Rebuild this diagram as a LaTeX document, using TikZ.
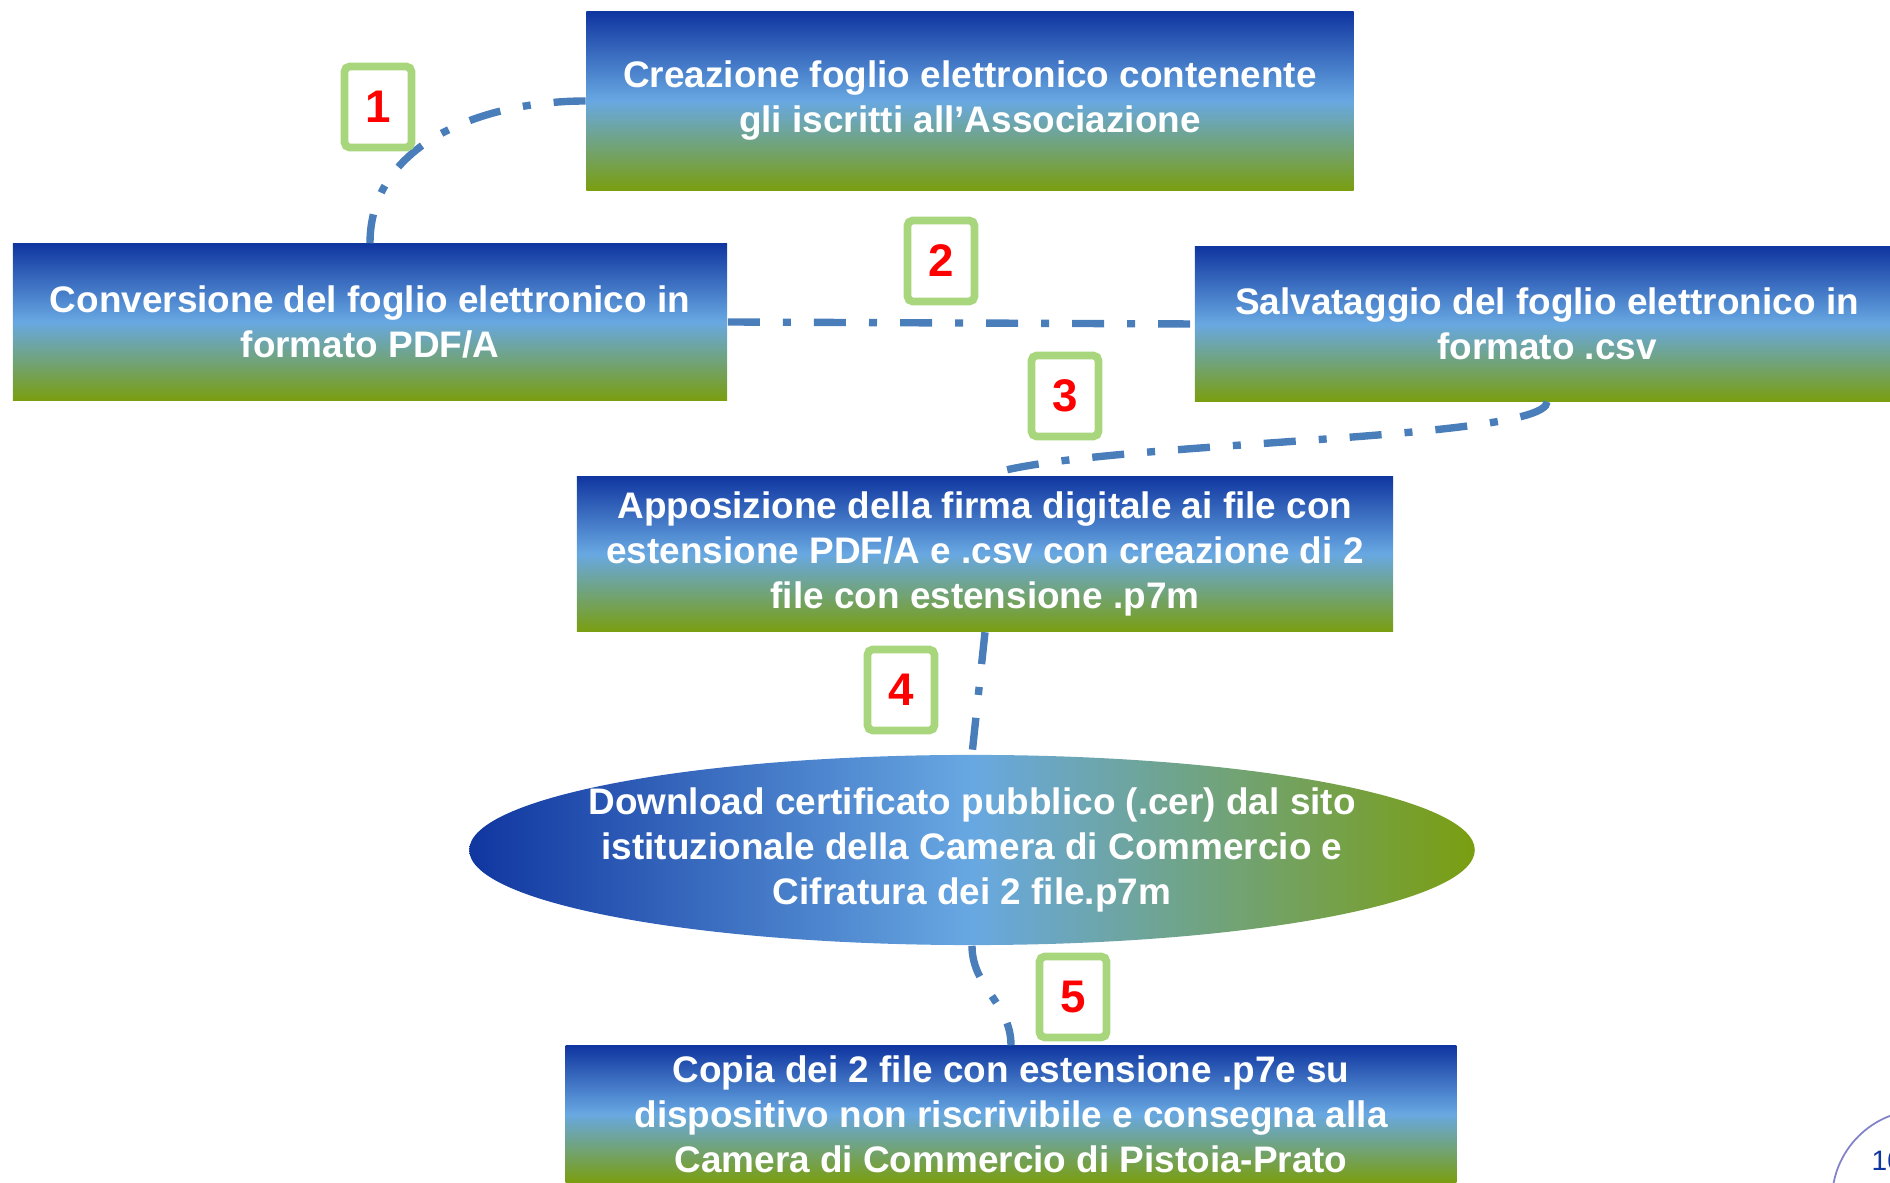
\documentclass[tikz,border=0pt]{standalone}
\usepackage{fontspec}
\setmainfont{Liberation Sans}
\usetikzlibrary{shapes.geometric}

\definecolor{bluscuro}{RGB}{16,54,160}
\definecolor{azzurro}{RGB}{104,168,226}
\definecolor{oliva}{RGB}{122,158,16}
\definecolor{filo}{RGB}{74,126,187}
\definecolor{verdino}{RGB}{168,214,124}

\begin{document}
\begin{tikzpicture}[x=0.01cm, y=-0.01cm,
	passo/.style={top color=bluscuro, bottom color=oliva, middle color=azzurro,
		text=white, align=center, inner sep=0pt,
		font=\bfseries\fontsize{10.5}{12.8}\selectfont},
	cifra/.style={ellipse, left color=bluscuro, right color=oliva, middle color=azzurro,
		text=white, align=center, inner xsep=-0.32cm, inner ysep=0.05cm,
		font=\bfseries\fontsize{10.5}{12.8}\selectfont},
	num/.style={draw=verdino, line width=2.2pt, fill=white, rounded corners=1.5pt,
		minimum width=0.67cm, minimum height=0.81cm, inner sep=0pt,
		text=red, font=\bfseries\fontsize{13}{13}\selectfont},
	link/.style={draw=filo, line width=2.1pt,
		dash pattern=on 0.32cm off 0.23cm on 0.08cm off 0.23cm}]
	\useasboundingbox (0,0) rectangle (1890,1183);
	\clip (0,0) rectangle (1890,1183);

	\node [passo, minimum width=7.67cm, minimum height=1.78cm] (crea) at (970,101)
		{Creazione foglio elettronico contenente\\gli iscritti all’Associazione};
	\node [passo, minimum width=7.14cm, minimum height=1.56cm] (conv) at (370,322)
		{Conversione del foglio elettronico in\\formato PDF/A};
	\node [passo, minimum width=7.04cm, minimum height=1.54cm] (salv) at (1547,324)
		{Salvataggio del foglio elettronico in\\formato .csv};
	\node [passo, minimum width=8.16cm, minimum height=1.55cm] (firma) at (985,554)
		{Apposizione della firma digitale ai file con\\estensione PDF/A e .csv con creazione di 2\\file con estensione .p7m};
	\node [cifra, minimum width=10.05cm, minimum height=1.86cm] (cert) at (972,850)
		{Download certificato pubblico (.cer) dal sito\\istituzionale della Camera di Commercio e\\Cifratura dei 2 file.p7m};
	\node [passo, minimum width=8.9cm, minimum height=1.36cm] (copia) at (1011,1114)
		{Copia dei 2 file con estensione .p7e su\\dispositivo non riscrivibile e consegna alla\\Camera di Commercio di Pistoia-Prato};

	\draw [link] (crea.west) to[out=180, in=90] (conv.north);
	\draw [link] (conv.east) -- (salv.west);
	\draw [link] (salv.south) .. controls +(0,40) and +(100,-35) .. (firma.north);
	\draw [link] (firma.south) -- (cert.north);
	\draw [link] (cert.south) to[out=-90, in=90] (copia.north);

	\node [num] (n1) at (378,107) {1};
	\node [num] (n2) at (941,261) {2};
	\node [num] (n3) at (1065,396) {3};
	\node [num] (n4) at (901,690) {4};
	\node [num] (n5) at (1073,997) {5};

	\draw [gray!60!blue!70, line width=0.5pt] (1922,1200) circle [radius=90];
	\node [anchor=west, inner sep=0pt, text=bluscuro, font=\fontsize{8}{8}\selectfont] (pagina) at (1871,1161) {10};
\end{tikzpicture}
\end{document}
